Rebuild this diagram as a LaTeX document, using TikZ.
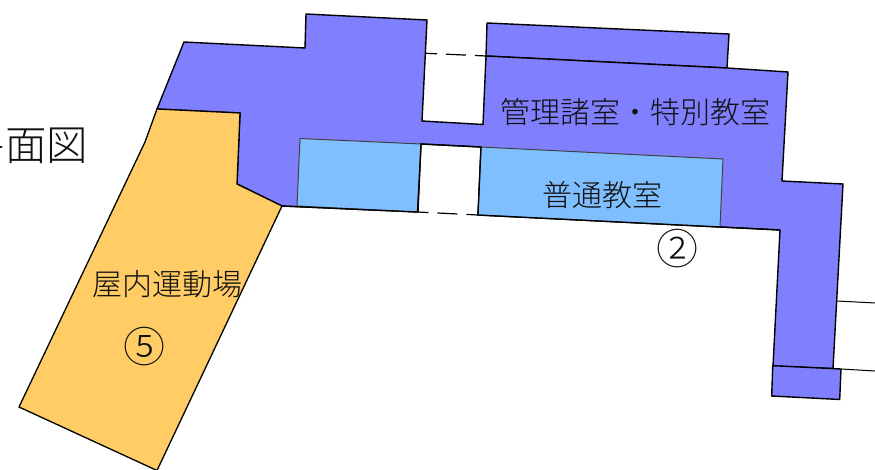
\documentclass[tikz,border=0pt]{standalone}
\usepackage{fontspec}
\setmainfont{Noto Sans CJK JP Light}
\definecolor{adminblue}{HTML}{8080FF}
\definecolor{roomblue}{HTML}{80BFFF}
\definecolor{gymorange}{HTML}{FFCC66}
\definecolor{inkcol}{HTML}{111111}
\tikzset{
  wing/.style={draw=black,line width=1.4pt,line join=miter,fill=adminblue},
  classroom/.style={draw=black!75,line width=1pt,fill=roomblue},
  gym/.style={draw=black,line width=1.3pt,fill=gymorange},
  thinline/.style={draw=black,line width=1pt},
  dashline/.style={draw=black,line width=1.2pt,dash pattern=on 11pt off 9pt on 20pt off 9pt on 12pt},
  roomlabel/.style={font=\fontsize{30}{31}\selectfont,text=inkcol,inner sep=0pt},
  numlabel/.style={font=\fontsize{42}{44}\selectfont,text=inkcol,inner sep=0pt},
  titlelabel/.style={font=\fontsize{41.5}{43}\selectfont,text=inkcol,inner sep=0pt}
}
\begin{document}
\begin{tikzpicture}[x=1pt,y=-1pt]
\useasboundingbox (0,0) rectangle (875,470);
\clip (0,0) rectangle (875,470);
% thin external lines
\coordinate (r1a) at (837,301);
\coordinate (r1b) at (875,303);
\coordinate (r2a) at (841,369);
\coordinate (r2b) at (875,371);
\draw[thinline] (r1a) -- (r1b);
\draw[thinline] (r2a) -- (r2b);
% upper box
\draw[wing] (487,23) -- (729,34) -- (727,68) -- (486,56) -- cycle;
% main building
\draw[wing] (184,42) -- (305,48) -- (306,14) -- (427,20) -- (422,121) -- (483,124.5)
  -- (486,56) -- (727,68) -- (788,72) -- (782,181) -- (843,184) -- (833,368.5)
  -- (773,366) -- (780,230) -- (720,227) -- (478,215) -- (481,147) -- (421,144)
  -- (418,212) -- (282,206) -- (237,184) -- (240,113) -- (157,109) -- cycle;
% end box
\draw[wing] (772.7,365.7) -- (841,369) -- (839.7,399.5) -- (771.7,396) -- cycle;
% classrooms
\draw[classroom] (300,138.5) -- (421,144) -- (417.5,212) -- (297,206) -- cycle;
\draw[classroom] (481,147) -- (723,159) -- (720,227) -- (478,215) -- cycle;
\draw[thinline,line width=1.3pt] (282,206) -- (417.5,212);
\draw[thinline,line width=1.3pt] (478,215) -- (720,227) -- (780,230);
\draw[thinline,line width=1.3pt] (417.5,212) -- (421,144) -- (481,147) -- (478,215);
% gym
\draw[gym] (157,109) -- (240,113) -- (237,184) -- (282,206) -- (157,470.5)
  -- (19,407) -- (145,142) -- cycle;
% dashed links
\coordinate (d1a) at (426,53.3);
\coordinate (d1b) at (486,56);
\coordinate (d2a) at (417.5,212);
\coordinate (d2b) at (478,215);
\draw[dashline] (d1a) -- (d1b);
\draw[dashline] (d2a) -- (d2b);
% labels
\node[titlelabel] (title) at (26,145.5) {平面図};
\node[roomlabel] (admin) at (635,112) {管理諸室・特別教室};
\node[roomlabel] (normal) at (602,195) {普通教室};
\node[roomlabel] (gymlabel) at (167,284) {屋内運動場};
\node[numlabel] (two) at (677,249) {②};
\node[numlabel] (five) at (144,347) {⑤};
\end{tikzpicture}
\end{document}
